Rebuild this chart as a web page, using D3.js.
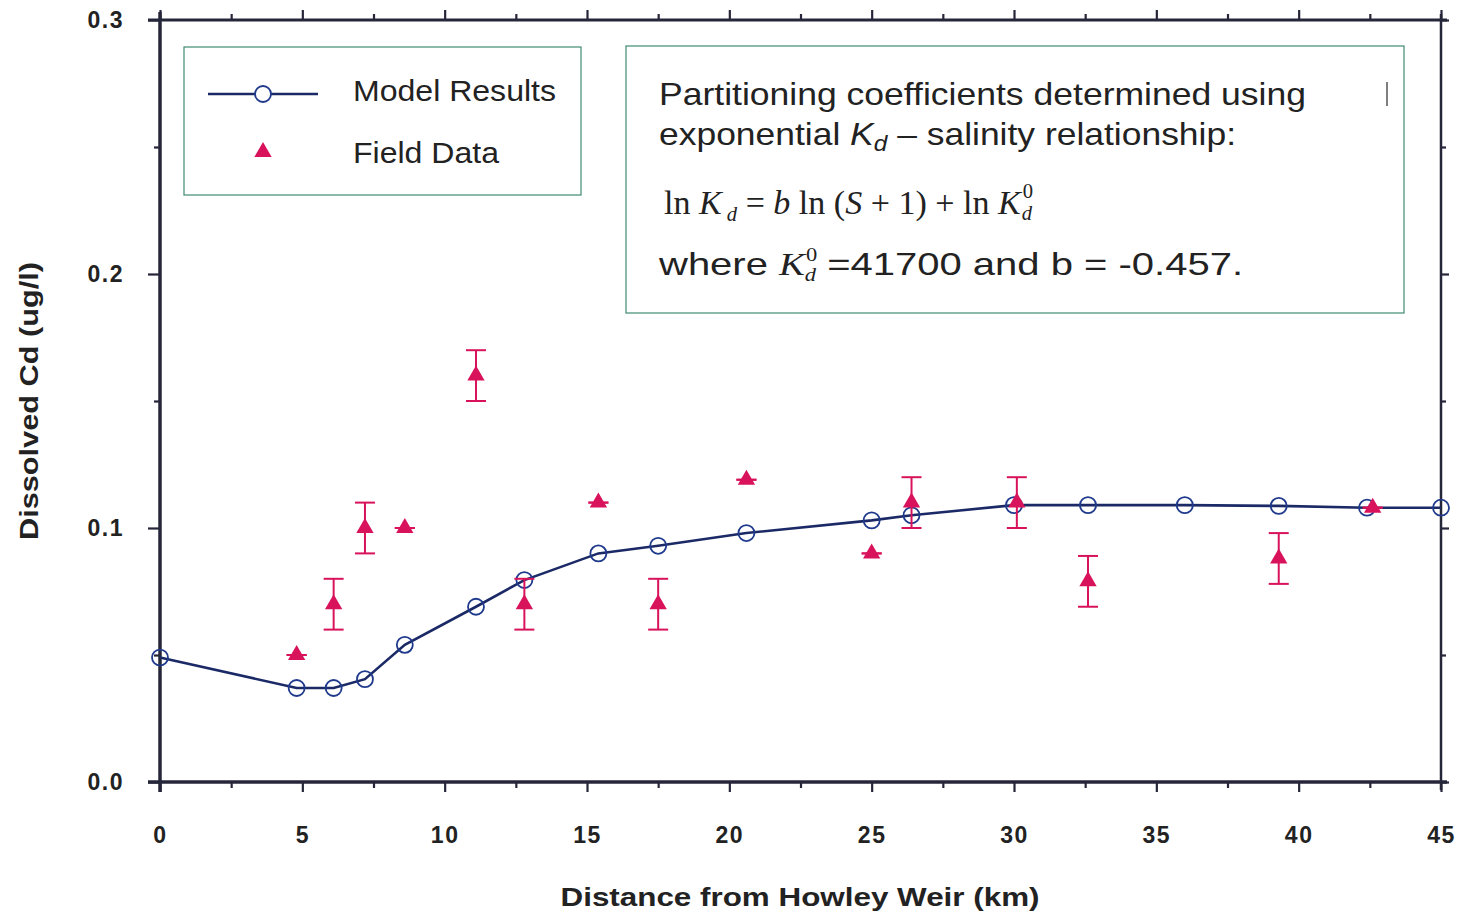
<!DOCTYPE html>
<html>
<head>
<meta charset="utf-8">
<script src="https://cdn.jsdelivr.net/npm/d3@7/dist/d3.min.js"></script>
<style>
  html, body { margin: 0; padding: 0; background: #fff; }
  svg { display: block; }
</style>
</head>
<body>
<svg id="chart"></svg>
<script>
// Model results (km, ug/l)
const modelX = [0, 4.8, 6.1, 7.2, 8.6, 11.1, 12.8, 15.4, 17.5, 20.6, 25.0, 26.4, 30.0, 32.6, 36.0, 39.3, 42.4, 45.0];
const modelY = [0.049, 0.037, 0.037, 0.0405, 0.054, 0.069, 0.0795, 0.090, 0.093, 0.098, 0.103, 0.105, 0.109, 0.109, 0.109, 0.1087, 0.108, 0.108];

// Field data with error (+/-)
const fieldX   = [4.8, 6.1, 7.2, 8.6, 11.1, 12.8, 15.4, 17.5, 20.6, 25.0, 26.4, 30.1, 32.6, 39.3, 42.6];
const fieldY   = [0.05, 0.07, 0.10, 0.10, 0.16, 0.07, 0.11, 0.07, 0.119, 0.09, 0.11, 0.11, 0.079, 0.088, 0.108];
const fieldErr = [0, 0.01, 0.01, 0, 0.01, 0.01, 0, 0.01, 0, 0, 0.01, 0.01, 0.01, 0.01, 0];

const xMajor = [0, 5, 10, 15, 20, 25, 30, 35, 40, 45];
const xMinor = [2.5, 7.5, 12.5, 17.5, 22.5, 27.5, 32.5, 37.5, 42.5];
const yMajor = [0, 0.1, 0.2, 0.3];
const yMinor = [0.05, 0.15, 0.25];

const W = 1461, H = 913;
const svg = d3.select('#chart').attr('width', W).attr('height', H);

const x = d3.scaleLinear().domain([0, 45]).range([160, 1441]);
const y = d3.scaleLinear().domain([0, 0.3]).range([782, 20]);

const axisColor = '#26263a';
const lblFont = 'Liberation Sans, Arial, sans-serif';

// axes
function styleAxis(g) {
    g.select('.domain').remove();
    g.selectAll('.tick line').attr('stroke', axisColor).attr('stroke-width', 2.2);
    g.selectAll('.tick text')
        .attr('font-family', lblFont).attr('font-size', 23).attr('font-weight', 'bold')
        .attr('fill', '#222').style('letter-spacing', '1.5px');
}

svg.append('g').attr('transform', `translate(0,${y(0)})`)
    .call(d3.axisBottom(x).tickValues(xMajor).tickSize(10).tickPadding(35).tickFormat(d3.format('d')))
    .call(styleAxis);
svg.append('g').attr('transform', `translate(0,${y(0)})`)
    .call(d3.axisBottom(x).tickValues(xMinor).tickSize(6).tickFormat(''))
    .call(styleAxis);
svg.append('g').attr('transform', `translate(0,${y(0.3)})`)
    .call(d3.axisTop(x).tickValues(xMajor).tickSize(10).tickFormat(''))
    .call(styleAxis);
svg.append('g').attr('transform', `translate(0,${y(0.3)})`)
    .call(d3.axisTop(x).tickValues(xMinor).tickSize(6).tickFormat(''))
    .call(styleAxis);

svg.append('g').attr('transform', `translate(${x(0)},0)`)
    .call(d3.axisLeft(y).tickValues(yMajor).tickSize(12).tickPadding(24).tickFormat(d3.format('.1f')))
    .call(styleAxis);
svg.append('g').attr('transform', `translate(${x(0)},0)`)
    .call(d3.axisLeft(y).tickValues(yMinor).tickSize(6).tickFormat(''))
    .call(styleAxis);
svg.append('g').attr('transform', `translate(${x(45)},0)`)
    .call(d3.axisRight(y).tickValues(yMajor).tickSize(8).tickFormat(''))
    .call(styleAxis);
svg.append('g').attr('transform', `translate(${x(45)},0)`)
    .call(d3.axisRight(y).tickValues(yMinor).tickSize(5).tickFormat(''))
    .call(styleAxis);

// frame lines
const frame = svg.append('g').attr('stroke', axisColor).attr('fill', 'none');
frame.append('line').attr('x1', x(0) - 12).attr('x2', x(45) + 6).attr('y1', y(0)).attr('y2', y(0)).attr('stroke-width', 3.5);
frame.append('line').attr('x1', x(0)).attr('x2', x(0)).attr('y1', y(0.3) - 8).attr('y2', y(0) + 10).attr('stroke-width', 3.5);
frame.append('line').attr('x1', x(0) - 12).attr('x2', x(45) + 6).attr('y1', y(0.3)).attr('y2', y(0.3)).attr('stroke-width', 3);
frame.append('line').attr('x1', x(45)).attr('x2', x(45)).attr('y1', y(0.3) - 6).attr('y2', y(0) + 8).attr('stroke-width', 2.5);

// axis titles
svg.append('text')
    .attr('x', 800).attr('y', 906).attr('text-anchor', 'middle')
    .attr('font-family', lblFont).attr('font-size', 26).attr('font-weight', 'bold').attr('fill', '#222')
    .attr('textLength', 479).attr('lengthAdjust', 'spacingAndGlyphs')
    .text('Distance from Howley Weir (km)');
svg.append('text')
    .attr('transform', `translate(38,401) rotate(-90)`).attr('text-anchor', 'middle')
    .attr('font-family', lblFont).attr('font-size', 26).attr('font-weight', 'bold').attr('fill', '#222')
    .attr('textLength', 278).attr('lengthAdjust', 'spacingAndGlyphs')
    .text('Dissolved Cd (ug/l)');

// model line
const lineColor = '#1b2a66';
const circColor = '#1f3a8c';
const model = modelX.map((d, i) => ({ x: d, y: modelY[i] }));
svg.append('path')
    .datum(model)
    .attr('d', d3.line().x(d => x(d.x)).y(d => y(d.y)))
    .attr('fill', 'none').attr('stroke', lineColor).attr('stroke-width', 2.6);
svg.selectAll('circle.model')
    .data(model)
    .join('circle')
    .attr('class', 'model')
    .attr('cx', d => x(d.x)).attr('cy', d => y(d.y)).attr('r', 8)
    .attr('fill', 'none').attr('stroke', circColor).attr('stroke-width', 1.8);

// field data
const fieldColor = '#d8125b';
const field = fieldX.map((d, i) => ({ x: d, y: fieldY[i], e: fieldErr[i] }));
const tri = d3.symbol().type(d3.symbolTriangle).size(130);
const fg = svg.append('g');
field.forEach(d => {
    const px = x(d.x), top = y(d.y + d.e), bot = y(d.y - d.e);
    const cap = fg.append('g').attr('stroke', fieldColor).attr('stroke-width', 2);
    if (d.e > 0) cap.append('line').attr('x1', px).attr('x2', px).attr('y1', top).attr('y2', bot);
    cap.append('line').attr('x1', px - 10).attr('x2', px + 10).attr('y1', top).attr('y2', top);
    cap.append('line').attr('x1', px - 10).attr('x2', px + 10).attr('y1', bot).attr('y2', bot);
    fg.append('path').attr('d', tri).attr('transform', `translate(${px},${y(d.y)})`).attr('fill', fieldColor);
});

// legend
const boxStroke = '#3f8a72';
svg.append('rect').attr('x', 184).attr('y', 47).attr('width', 397).attr('height', 148)
    .attr('fill', '#fff').attr('stroke', boxStroke).attr('stroke-width', 1.2);
svg.append('line').attr('x1', 208).attr('x2', 318).attr('y1', 94).attr('y2', 94)
    .attr('stroke', lineColor).attr('stroke-width', 2.6);
svg.append('circle').attr('cx', 263).attr('cy', 94).attr('r', 8)
    .attr('fill', '#fff').attr('stroke', circColor).attr('stroke-width', 1.8);
svg.append('path').attr('d', tri).attr('transform', 'translate(263,152)').attr('fill', fieldColor);
const legTxt = [['Model Results', 101, 203], ['Field Data', 163, 146]];
legTxt.forEach(([t, ty, tl]) => {
    svg.append('text').attr('x', 353).attr('y', ty)
        .attr('font-family', lblFont).attr('font-size', 30).attr('fill', '#222')
        .attr('textLength', tl).attr('lengthAdjust', 'spacingAndGlyphs')
        .text(t);
});

// annotation box
svg.append('rect').attr('x', 626).attr('y', 46).attr('width', 778).attr('height', 267)
    .attr('fill', '#fff').attr('stroke', boxStroke).attr('stroke-width', 1.2);
svg.append('line').attr('x1', 1387).attr('x2', 1387).attr('y1', 82).attr('y2', 106)
    .attr('stroke', '#555').attr('stroke-width', 1.5);

const sansFont = 'Liberation Sans, Arial, sans-serif';
const serifFont = 'Liberation Serif, Times New Roman, serif';

svg.append('text').attr('x', 659).attr('y', 105)
    .attr('font-family', sansFont).attr('font-size', 32).attr('fill', '#222')
    .attr('textLength', 647).attr('lengthAdjust', 'spacingAndGlyphs')
    .text('Partitioning coefficients determined using');

const t2 = svg.append('text').attr('x', 659).attr('y', 145)
    .attr('font-family', sansFont).attr('font-size', 32).attr('fill', '#222')
    .attr('textLength', 577).attr('lengthAdjust', 'spacingAndGlyphs');
t2.append('tspan').text('exponential ');
t2.append('tspan').attr('font-style', 'italic').text('K');
t2.append('tspan').attr('font-style', 'italic').attr('font-size', 22).attr('dy', 6).text('d');
t2.append('tspan').attr('dy', -6).text(' – salinity relationship:');

const t3 = svg.append('text').attr('x', 664).attr('y', 214)
    .attr('font-family', serifFont).attr('font-size', 33).attr('fill', '#222')
    .attr('textLength', 369).attr('lengthAdjust', 'spacingAndGlyphs');
t3.append('tspan').text('ln ');
t3.append('tspan').attr('font-style', 'italic').text('K');
t3.append('tspan').attr('font-style', 'italic').attr('font-size', 20).attr('dy', 7).text(' d');
t3.append('tspan').attr('dy', -7).text(' = ');
t3.append('tspan').attr('font-style', 'italic').text('b');
t3.append('tspan').text(' ln (');
t3.append('tspan').attr('font-style', 'italic').text('S');
t3.append('tspan').text(' + 1) + ln ');
t3.append('tspan').attr('font-style', 'italic').text('K');
t3.append('tspan').attr('font-size', 20).attr('dy', -16).attr('dx', 2).text('0');
t3.append('tspan').attr('font-style', 'italic').attr('font-size', 20).attr('dy', 22).attr('dx', -11).text('d');

const t4 = svg.append('text').attr('x', 659).attr('y', 275)
    .attr('font-family', sansFont).attr('font-size', 32).attr('fill', '#222')
    .attr('textLength', 584).attr('lengthAdjust', 'spacingAndGlyphs');
t4.append('tspan').text('where ');
t4.append('tspan').attr('font-family', serifFont).attr('font-style', 'italic').attr('font-size', 31).text('K');
t4.append('tspan').attr('font-family', serifFont).attr('font-size', 18).attr('dy', -14).attr('dx', 1).text('0');
t4.append('tspan').attr('font-family', serifFont).attr('font-style', 'italic').attr('font-size', 18).attr('dy', 20).attr('dx', -10).text('d');
t4.append('tspan').attr('dy', -6).text('   =41700 and b = -0.457.');
</script>
</body>
</html>
